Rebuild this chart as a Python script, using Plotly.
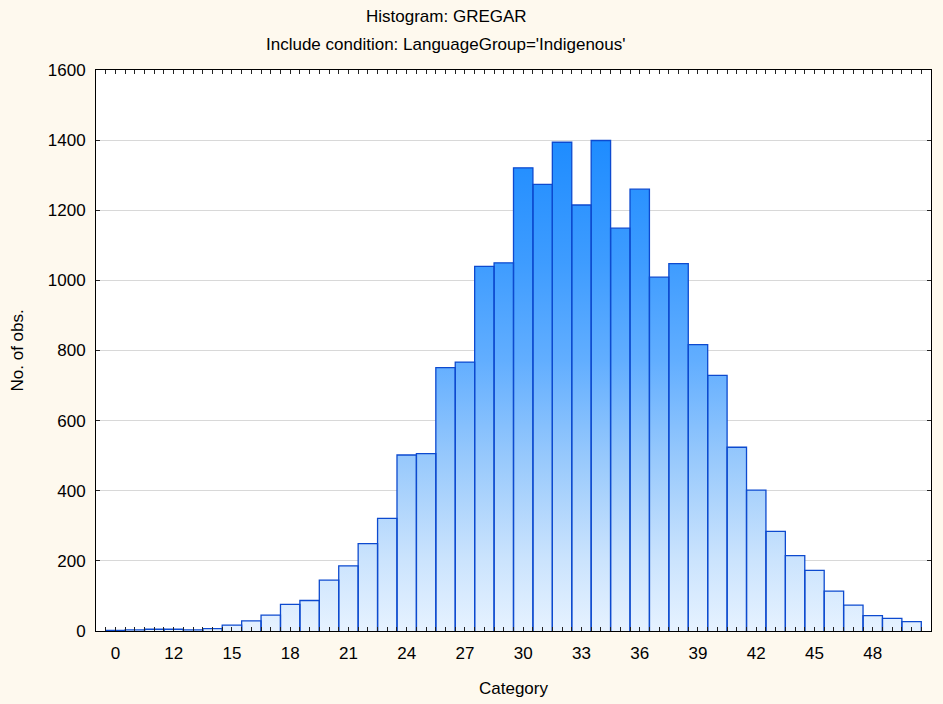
import plotly.graph_objects as go

categories = [0] + list(range(10, 51))
counts = [2, 3, 5, 5, 3, 7, 17, 29, 45, 76,
          87, 145, 186, 249, 321, 502, 506, 751, 767, 1040,
          1050, 1321, 1274, 1394, 1215, 1399, 1149, 1260, 1009, 1048,
          817, 729, 524, 402, 284, 215, 173, 114, 74, 44,
          36, 27]
label_every = 3
title_lines = ["Histogram: GREGAR", "Include condition: LanguageGroup='Indigenous'"]
x_title = "Category"
y_title = "No. of obs."

n = len(categories)
idx = list(range(n))

# step outline used for gradient fill
px, py = [-0.5], [0]
for i, v in zip(idx, counts):
    px += [i - 0.5, i + 0.5]
    py += [v, v]
px.append(n - 0.5)
py.append(0)

# individual bar outlines
ox, oy = [], []
for i, v in zip(idx, counts):
    ox += [i - 0.5, i - 0.5, i + 0.5, i + 0.5, None]
    oy += [0, v, v, 0, None]

font = "Liberation Sans, Arial, sans-serif"
FS = 17

fig = go.Figure()
fig.add_trace(go.Scatter(
    x=px, y=py, mode="lines", fill="toself", line=dict(width=0),
    fillgradient=dict(
        type="vertical", start=0, stop=1400,
        colorscale=[[0, "rgb(230,242,255)"], [0.15, "rgb(202,227,253)"],
                    [0.35, "rgb(152,201,252)"], [0.55, "rgb(98,174,255)"],
                    [0.75, "rgb(62,156,255)"], [1, "rgb(30,140,255)"]]),
    hoverinfo="skip", showlegend=False))
fig.add_trace(go.Scatter(
    x=ox, y=oy, mode="lines", line=dict(color="#0D4ACF", width=1.3),
    hoverinfo="skip", showlegend=False))

tickvals = [i * 0.5 - 0.5 for i in range(2 * n + 1)]
ticktext = []
for t in tickvals:
    if t == int(t) and int(t) % label_every == 0:
        ticktext.append(str(categories[int(t)]))
    else:
        ticktext.append("")

W, H = 943, 704
L, R, T, B = 96, 12, 70, 73
pw, ph = W - L - R, H - T - B

fig.update_layout(
    width=W, height=H,
    margin=dict(l=L, r=R, t=T, b=B),
    paper_bgcolor="#FEF9EE", plot_bgcolor="white",
    font=dict(family=font, size=FS, color="black"),
    xaxis=dict(range=[-1, n], tickmode="array", tickvals=tickvals, ticktext=ticktext,
               ticks="inside", ticklen=4, tickcolor="#222", showgrid=False,
               showline=True, linecolor="black", linewidth=1, mirror="ticks",
               ticklabelstandoff=7, zeroline=False),
    yaxis=dict(range=[0, 1600], dtick=200, ticks="inside", ticklen=4, tickcolor="#222",
               showgrid=True, gridcolor="#D8D8D8", gridwidth=1,
               showline=True, linecolor="black", linewidth=1, mirror="ticks",
               ticklabelstandoff=6, zeroline=False),
    annotations=[
        dict(text=title_lines[0], xref="paper", yref="paper", x=(446 - L) / pw, y=1 + 53 / ph,
             showarrow=False, xanchor="center", yanchor="middle", font=dict(size=FS)),
        dict(text=title_lines[1], xref="paper", yref="paper", x=(446 - L) / pw, y=1 + 25 / ph,
             showarrow=False, xanchor="center", yanchor="middle", font=dict(size=FS)),
        dict(text=x_title, xref="paper", yref="paper", x=(513 - L) / pw, y=-57 / ph,
             showarrow=False, xanchor="center", yanchor="middle", font=dict(size=FS)),
        dict(text=y_title, xref="paper", yref="paper", x=(17 - L) / pw, y=0.5, textangle=-90,
             showarrow=False, xanchor="center", yanchor="middle", font=dict(size=FS)),
    ],
)

fig.write_html("out.html", config={"displayModeBar": False},
               post_script="document.body.style.margin='0';document.body.style.background='#FEF9EE';")
